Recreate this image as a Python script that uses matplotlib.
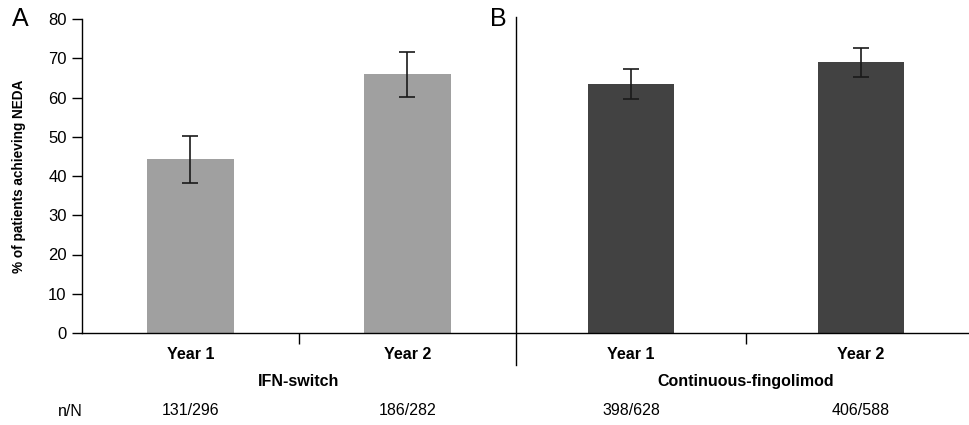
import numpy as np
import matplotlib
matplotlib.use("Agg")
from matplotlib import pyplot as plt
import matplotlib.transforms as mtransforms

plt.rcParams['font.family'] = ['Liberation Sans', 'DejaVu Sans']

# data
groups = ['IFN-switch', 'Continuous-fingolimod']
years = ['Year 1', 'Year 2', 'Year 1', 'Year 2']
neda = [44.3, 66.0, 63.4, 69.0]
ci_low = [38.3, 60.1, 59.5, 65.2]
ci_high = [50.2, 71.5, 67.3, 72.7]
counts = ['131/296', '186/282', '398/628', '406/588']
colors = ['#a0a0a0', '#a0a0a0', '#424242', '#424242']

# layout
xpos = [0.5, 1.5, 2.53, 3.59]
group_x = [1.0, 3.06]
divider_x = 2.0

fig = plt.figure(figsize=(9.69, 4.25), dpi=100)
ax = fig.add_axes([82/969, 92/425, 887/969, 314/425])

yerr = [np.array(neda) - np.array(ci_low), np.array(ci_high) - np.array(neda)]
ax.bar(xpos, neda, width=0.40, color=colors, zorder=2)
ax.errorbar(xpos, neda, yerr=yerr, fmt='none', ecolor='#1a1a1a',
            elinewidth=1.2, capsize=6, capthick=1.2, zorder=3)

ax.set_xlim(0, 4.088)
ax.set_ylim(0, 80)
ax.set_yticks(np.arange(0, 81, 10))
ax.tick_params(axis='y', labelsize=12, length=7, width=1, direction='out', pad=4)
ax.set_xticks(group_x)
ax.set_xticklabels([])
ax.tick_params(axis='x', length=8, width=1, direction='out')
for side in ['top', 'right']:
    ax.spines[side].set_visible(False)
ax.spines['left'].set_linewidth(1)
ax.spines['bottom'].set_linewidth(1)

ax.set_ylabel('% of patients achieving NEDA', fontsize=9.8, fontweight='bold', labelpad=16)

# divider between the two panels
ax.axvline(divider_x, ymin=-0.102, ymax=1.006, color='black', lw=1, clip_on=False)

trans = mtransforms.blended_transform_factory(ax.transData, ax.transAxes)
for x, yr, n in zip(xpos, years, counts):
    ax.text(x, -0.07, yr, transform=trans, ha='center', va='center',
            fontsize=11.5, fontweight='bold')
    ax.text(x, -0.248, n, transform=trans, ha='center', va='center', fontsize=11.5)
for x, g in zip(group_x, groups):
    ax.text(x, -0.153, g, transform=trans, ha='center', va='center',
            fontsize=11.5, fontweight='bold')
fig.text(70/969, 1 - 411/425, 'n/N', ha='center', va='center', fontsize=11.5)

fig.text(20/969, 1 - 19/425, 'A', ha='center', va='center', fontsize=18)
fig.text(498/969, 1 - 19/425, 'B', ha='center', va='center', fontsize=18)

plt.savefig('out.png', dpi=100)
